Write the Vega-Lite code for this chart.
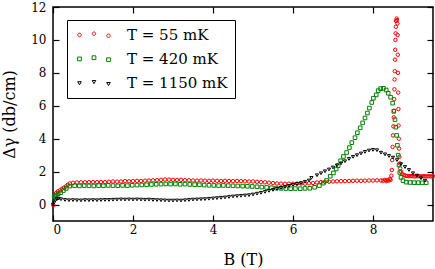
{
  "$schema": "https://vega.github.io/schema/vega-lite/v6.json",
  "autosize": {"type": "none"},
  "padding": {"left": 53, "top": 7, "right": 2, "bottom": 48},
  "width": 380,
  "height": 214,
  "background": "white",
  "config": {
    "view": {"stroke": "black", "strokeWidth": 1.5},
    "axis": {
      "grid": false,
      "domain": false,
      "labelFont": "DejaVu Serif",
      "titleFont": "DejaVu Serif",
      "labelFontSize": 12,
      "titleFontSize": 16,
      "titleFontWeight": "normal",
      "labelColor": "black",
      "titleColor": "black",
      "tickColor": "black",
      "tickWidth": 1.2,
      "tickSize": -6
    }
  },
  "data": {
    "values": [
      {"s": "T = 55 mK", "B": 0.01, "v": -0.05},
      {"s": "T = 55 mK", "B": 0.04, "v": 0.55},
      {"s": "T = 55 mK", "B": 0.08, "v": 0.7},
      {"s": "T = 55 mK", "B": 0.12, "v": 0.8},
      {"s": "T = 55 mK", "B": 0.17, "v": 0.86},
      {"s": "T = 55 mK", "B": 0.22, "v": 0.95},
      {"s": "T = 55 mK", "B": 0.27, "v": 1.02},
      {"s": "T = 55 mK", "B": 0.32, "v": 1.1},
      {"s": "T = 55 mK", "B": 0.37, "v": 1.2},
      {"s": "T = 55 mK", "B": 0.42, "v": 1.28},
      {"s": "T = 55 mK", "B": 0.5, "v": 1.32},
      {"s": "T = 55 mK", "B": 0.6, "v": 1.34},
      {"s": "T = 55 mK", "B": 0.7, "v": 1.35},
      {"s": "T = 55 mK", "B": 0.8, "v": 1.35},
      {"s": "T = 55 mK", "B": 0.9, "v": 1.36},
      {"s": "T = 55 mK", "B": 1.0, "v": 1.36},
      {"s": "T = 55 mK", "B": 1.1, "v": 1.36},
      {"s": "T = 55 mK", "B": 1.2, "v": 1.37},
      {"s": "T = 55 mK", "B": 1.3, "v": 1.36},
      {"s": "T = 55 mK", "B": 1.4, "v": 1.38},
      {"s": "T = 55 mK", "B": 1.5, "v": 1.4},
      {"s": "T = 55 mK", "B": 1.6, "v": 1.39},
      {"s": "T = 55 mK", "B": 1.7, "v": 1.4},
      {"s": "T = 55 mK", "B": 1.8, "v": 1.42},
      {"s": "T = 55 mK", "B": 1.9, "v": 1.41},
      {"s": "T = 55 mK", "B": 2.0, "v": 1.42},
      {"s": "T = 55 mK", "B": 2.1, "v": 1.44},
      {"s": "T = 55 mK", "B": 2.2, "v": 1.43},
      {"s": "T = 55 mK", "B": 2.3, "v": 1.45},
      {"s": "T = 55 mK", "B": 2.4, "v": 1.46},
      {"s": "T = 55 mK", "B": 2.5, "v": 1.47},
      {"s": "T = 55 mK", "B": 2.6, "v": 1.48},
      {"s": "T = 55 mK", "B": 2.7, "v": 1.5},
      {"s": "T = 55 mK", "B": 2.8, "v": 1.52},
      {"s": "T = 55 mK", "B": 2.9, "v": 1.51},
      {"s": "T = 55 mK", "B": 3.0, "v": 1.5},
      {"s": "T = 55 mK", "B": 3.1, "v": 1.49},
      {"s": "T = 55 mK", "B": 3.2, "v": 1.5},
      {"s": "T = 55 mK", "B": 3.3, "v": 1.48},
      {"s": "T = 55 mK", "B": 3.4, "v": 1.47},
      {"s": "T = 55 mK", "B": 3.5, "v": 1.46},
      {"s": "T = 55 mK", "B": 3.6, "v": 1.45},
      {"s": "T = 55 mK", "B": 3.7, "v": 1.46},
      {"s": "T = 55 mK", "B": 3.8, "v": 1.45},
      {"s": "T = 55 mK", "B": 3.9, "v": 1.44},
      {"s": "T = 55 mK", "B": 4.0, "v": 1.45},
      {"s": "T = 55 mK", "B": 4.1, "v": 1.44},
      {"s": "T = 55 mK", "B": 4.2, "v": 1.43},
      {"s": "T = 55 mK", "B": 4.3, "v": 1.44},
      {"s": "T = 55 mK", "B": 4.4, "v": 1.43},
      {"s": "T = 55 mK", "B": 4.5, "v": 1.42},
      {"s": "T = 55 mK", "B": 4.6, "v": 1.43},
      {"s": "T = 55 mK", "B": 4.7, "v": 1.42},
      {"s": "T = 55 mK", "B": 4.8, "v": 1.41},
      {"s": "T = 55 mK", "B": 4.9, "v": 1.4},
      {"s": "T = 55 mK", "B": 5.0, "v": 1.4},
      {"s": "T = 55 mK", "B": 5.1, "v": 1.38},
      {"s": "T = 55 mK", "B": 5.2, "v": 1.36},
      {"s": "T = 55 mK", "B": 5.3, "v": 1.35},
      {"s": "T = 55 mK", "B": 5.4, "v": 1.33},
      {"s": "T = 55 mK", "B": 5.5, "v": 1.3},
      {"s": "T = 55 mK", "B": 5.6, "v": 1.28},
      {"s": "T = 55 mK", "B": 5.7, "v": 1.27},
      {"s": "T = 55 mK", "B": 5.8, "v": 1.26},
      {"s": "T = 55 mK", "B": 5.9, "v": 1.27},
      {"s": "T = 55 mK", "B": 6.0, "v": 1.26},
      {"s": "T = 55 mK", "B": 6.1, "v": 1.27},
      {"s": "T = 55 mK", "B": 6.2, "v": 1.28},
      {"s": "T = 55 mK", "B": 6.3, "v": 1.27},
      {"s": "T = 55 mK", "B": 6.4, "v": 1.29},
      {"s": "T = 55 mK", "B": 6.5, "v": 1.31},
      {"s": "T = 55 mK", "B": 6.6, "v": 1.34},
      {"s": "T = 55 mK", "B": 6.7, "v": 1.36},
      {"s": "T = 55 mK", "B": 6.8, "v": 1.38},
      {"s": "T = 55 mK", "B": 6.9, "v": 1.39},
      {"s": "T = 55 mK", "B": 7.0, "v": 1.4},
      {"s": "T = 55 mK", "B": 7.1, "v": 1.41},
      {"s": "T = 55 mK", "B": 7.2, "v": 1.42},
      {"s": "T = 55 mK", "B": 7.3, "v": 1.42},
      {"s": "T = 55 mK", "B": 7.4, "v": 1.43},
      {"s": "T = 55 mK", "B": 7.5, "v": 1.44},
      {"s": "T = 55 mK", "B": 7.6, "v": 1.45},
      {"s": "T = 55 mK", "B": 7.7, "v": 1.44},
      {"s": "T = 55 mK", "B": 7.8, "v": 1.45},
      {"s": "T = 55 mK", "B": 7.9, "v": 1.46},
      {"s": "T = 55 mK", "B": 8.0, "v": 1.46},
      {"s": "T = 55 mK", "B": 8.1, "v": 1.47},
      {"s": "T = 55 mK", "B": 8.2, "v": 1.46},
      {"s": "T = 55 mK", "B": 8.25, "v": 1.45},
      {"s": "T = 55 mK", "B": 8.3, "v": 1.5},
      {"s": "T = 55 mK", "B": 8.33, "v": 1.42},
      {"s": "T = 55 mK", "B": 8.36, "v": 1.48},
      {"s": "T = 55 mK", "B": 8.39, "v": 1.45},
      {"s": "T = 55 mK", "B": 8.42, "v": 1.55},
      {"s": "T = 55 mK", "B": 8.44, "v": 1.5},
      {"s": "T = 55 mK", "B": 8.46, "v": 1.75},
      {"s": "T = 55 mK", "B": 8.47, "v": 2.1},
      {"s": "T = 55 mK", "B": 8.48, "v": 2.7},
      {"s": "T = 55 mK", "B": 8.49, "v": 3.5},
      {"s": "T = 55 mK", "B": 8.5, "v": 4.2},
      {"s": "T = 55 mK", "B": 8.51, "v": 4.75},
      {"s": "T = 55 mK", "B": 8.52, "v": 5.3},
      {"s": "T = 55 mK", "B": 8.525, "v": 5.7},
      {"s": "T = 55 mK", "B": 8.53, "v": 6.4},
      {"s": "T = 55 mK", "B": 8.535, "v": 7.0},
      {"s": "T = 55 mK", "B": 8.54, "v": 7.6},
      {"s": "T = 55 mK", "B": 8.545, "v": 8.1},
      {"s": "T = 55 mK", "B": 8.55, "v": 8.8},
      {"s": "T = 55 mK", "B": 8.555, "v": 9.4},
      {"s": "T = 55 mK", "B": 8.56, "v": 10.0},
      {"s": "T = 55 mK", "B": 8.565, "v": 10.4},
      {"s": "T = 55 mK", "B": 8.57, "v": 10.8},
      {"s": "T = 55 mK", "B": 8.575, "v": 11.15},
      {"s": "T = 55 mK", "B": 8.59, "v": 11.3},
      {"s": "T = 55 mK", "B": 8.6, "v": 11.2},
      {"s": "T = 55 mK", "B": 8.61, "v": 11.0},
      {"s": "T = 55 mK", "B": 8.615, "v": 10.3},
      {"s": "T = 55 mK", "B": 8.62, "v": 9.1},
      {"s": "T = 55 mK", "B": 8.625, "v": 8.0},
      {"s": "T = 55 mK", "B": 8.63, "v": 6.8},
      {"s": "T = 55 mK", "B": 8.635, "v": 5.8},
      {"s": "T = 55 mK", "B": 8.64, "v": 4.8},
      {"s": "T = 55 mK", "B": 8.645, "v": 4.0},
      {"s": "T = 55 mK", "B": 8.65, "v": 3.4},
      {"s": "T = 55 mK", "B": 8.66, "v": 2.9},
      {"s": "T = 55 mK", "B": 8.67, "v": 2.5},
      {"s": "T = 55 mK", "B": 8.68, "v": 2.2},
      {"s": "T = 55 mK", "B": 8.7, "v": 2.0},
      {"s": "T = 55 mK", "B": 8.73, "v": 1.85},
      {"s": "T = 55 mK", "B": 8.77, "v": 1.8},
      {"s": "T = 55 mK", "B": 8.81, "v": 1.75},
      {"s": "T = 55 mK", "B": 8.85, "v": 1.74},
      {"s": "T = 55 mK", "B": 8.9, "v": 1.72},
      {"s": "T = 55 mK", "B": 8.95, "v": 1.73},
      {"s": "T = 55 mK", "B": 9.0, "v": 1.72},
      {"s": "T = 55 mK", "B": 9.05, "v": 1.71},
      {"s": "T = 55 mK", "B": 9.1, "v": 1.72},
      {"s": "T = 55 mK", "B": 9.15, "v": 1.72},
      {"s": "T = 55 mK", "B": 9.2, "v": 1.71},
      {"s": "T = 55 mK", "B": 9.25, "v": 1.72},
      {"s": "T = 55 mK", "B": 9.3, "v": 1.72},
      {"s": "T = 55 mK", "B": 9.35, "v": 1.71},
      {"s": "T = 55 mK", "B": 9.4, "v": 1.72},
      {"s": "T = 55 mK", "B": 9.45, "v": 1.71},
      {"s": "T = 55 mK", "B": 9.5, "v": 1.72},

      {"s": "T = 420 mK", "B": 0.03, "v": 0.5},
      {"s": "T = 420 mK", "B": 0.08, "v": 0.58},
      {"s": "T = 420 mK", "B": 0.13, "v": 0.66},
      {"s": "T = 420 mK", "B": 0.19, "v": 0.72},
      {"s": "T = 420 mK", "B": 0.26, "v": 0.85},
      {"s": "T = 420 mK", "B": 0.33, "v": 0.98},
      {"s": "T = 420 mK", "B": 0.42, "v": 1.12},
      {"s": "T = 420 mK", "B": 0.54, "v": 1.14},
      {"s": "T = 420 mK", "B": 0.66, "v": 1.13},
      {"s": "T = 420 mK", "B": 0.78, "v": 1.15},
      {"s": "T = 420 mK", "B": 0.9, "v": 1.14},
      {"s": "T = 420 mK", "B": 1.02, "v": 1.13},
      {"s": "T = 420 mK", "B": 1.14, "v": 1.15},
      {"s": "T = 420 mK", "B": 1.26, "v": 1.14},
      {"s": "T = 420 mK", "B": 1.38, "v": 1.16},
      {"s": "T = 420 mK", "B": 1.5, "v": 1.15},
      {"s": "T = 420 mK", "B": 1.62, "v": 1.14},
      {"s": "T = 420 mK", "B": 1.74, "v": 1.16},
      {"s": "T = 420 mK", "B": 1.86, "v": 1.15},
      {"s": "T = 420 mK", "B": 1.98, "v": 1.17},
      {"s": "T = 420 mK", "B": 2.1, "v": 1.18},
      {"s": "T = 420 mK", "B": 2.22, "v": 1.19},
      {"s": "T = 420 mK", "B": 2.34, "v": 1.2},
      {"s": "T = 420 mK", "B": 2.46, "v": 1.22},
      {"s": "T = 420 mK", "B": 2.58, "v": 1.23},
      {"s": "T = 420 mK", "B": 2.7, "v": 1.24},
      {"s": "T = 420 mK", "B": 2.82, "v": 1.25},
      {"s": "T = 420 mK", "B": 2.94, "v": 1.24},
      {"s": "T = 420 mK", "B": 3.06, "v": 1.25},
      {"s": "T = 420 mK", "B": 3.18, "v": 1.23},
      {"s": "T = 420 mK", "B": 3.3, "v": 1.24},
      {"s": "T = 420 mK", "B": 3.42, "v": 1.22},
      {"s": "T = 420 mK", "B": 3.54, "v": 1.21},
      {"s": "T = 420 mK", "B": 3.66, "v": 1.2},
      {"s": "T = 420 mK", "B": 3.78, "v": 1.18},
      {"s": "T = 420 mK", "B": 3.9, "v": 1.17},
      {"s": "T = 420 mK", "B": 4.02, "v": 1.16},
      {"s": "T = 420 mK", "B": 4.14, "v": 1.15},
      {"s": "T = 420 mK", "B": 4.26, "v": 1.16},
      {"s": "T = 420 mK", "B": 4.38, "v": 1.15},
      {"s": "T = 420 mK", "B": 4.5, "v": 1.14},
      {"s": "T = 420 mK", "B": 4.62, "v": 1.13},
      {"s": "T = 420 mK", "B": 4.74, "v": 1.12},
      {"s": "T = 420 mK", "B": 4.86, "v": 1.11},
      {"s": "T = 420 mK", "B": 4.98, "v": 1.1},
      {"s": "T = 420 mK", "B": 5.1, "v": 1.08},
      {"s": "T = 420 mK", "B": 5.22, "v": 1.06},
      {"s": "T = 420 mK", "B": 5.34, "v": 1.04},
      {"s": "T = 420 mK", "B": 5.46, "v": 1.02},
      {"s": "T = 420 mK", "B": 5.58, "v": 1.0},
      {"s": "T = 420 mK", "B": 5.7, "v": 0.98},
      {"s": "T = 420 mK", "B": 5.82, "v": 0.97},
      {"s": "T = 420 mK", "B": 5.94, "v": 0.96},
      {"s": "T = 420 mK", "B": 6.06, "v": 0.97},
      {"s": "T = 420 mK", "B": 6.18, "v": 0.96},
      {"s": "T = 420 mK", "B": 6.3, "v": 0.98},
      {"s": "T = 420 mK", "B": 6.42, "v": 0.99},
      {"s": "T = 420 mK", "B": 6.54, "v": 1.05},
      {"s": "T = 420 mK", "B": 6.66, "v": 1.15},
      {"s": "T = 420 mK", "B": 6.76, "v": 1.3},
      {"s": "T = 420 mK", "B": 6.84, "v": 1.46},
      {"s": "T = 420 mK", "B": 6.93, "v": 1.72},
      {"s": "T = 420 mK", "B": 7.01, "v": 1.92},
      {"s": "T = 420 mK", "B": 7.08, "v": 2.16},
      {"s": "T = 420 mK", "B": 7.13, "v": 2.36},
      {"s": "T = 420 mK", "B": 7.19, "v": 2.66},
      {"s": "T = 420 mK", "B": 7.26, "v": 2.92},
      {"s": "T = 420 mK", "B": 7.34, "v": 3.16},
      {"s": "T = 420 mK", "B": 7.41, "v": 3.46},
      {"s": "T = 420 mK", "B": 7.47, "v": 3.76},
      {"s": "T = 420 mK", "B": 7.55, "v": 4.06},
      {"s": "T = 420 mK", "B": 7.61, "v": 4.36},
      {"s": "T = 420 mK", "B": 7.68, "v": 4.66},
      {"s": "T = 420 mK", "B": 7.74, "v": 4.96},
      {"s": "T = 420 mK", "B": 7.8, "v": 5.26},
      {"s": "T = 420 mK", "B": 7.86, "v": 5.56},
      {"s": "T = 420 mK", "B": 7.91, "v": 5.86},
      {"s": "T = 420 mK", "B": 7.97, "v": 6.2},
      {"s": "T = 420 mK", "B": 8.01, "v": 6.46},
      {"s": "T = 420 mK", "B": 8.08, "v": 6.66},
      {"s": "T = 420 mK", "B": 8.13, "v": 6.92},
      {"s": "T = 420 mK", "B": 8.19, "v": 7.04},
      {"s": "T = 420 mK", "B": 8.26, "v": 7.06},
      {"s": "T = 420 mK", "B": 8.33, "v": 6.96},
      {"s": "T = 420 mK", "B": 8.38, "v": 6.76},
      {"s": "T = 420 mK", "B": 8.44, "v": 6.52},
      {"s": "T = 420 mK", "B": 8.49, "v": 6.16},
      {"s": "T = 420 mK", "B": 8.52, "v": 5.66},
      {"s": "T = 420 mK", "B": 8.55, "v": 5.16},
      {"s": "T = 420 mK", "B": 8.57, "v": 4.7},
      {"s": "T = 420 mK", "B": 8.59, "v": 4.2},
      {"s": "T = 420 mK", "B": 8.61, "v": 3.6},
      {"s": "T = 420 mK", "B": 8.63, "v": 3.0},
      {"s": "T = 420 mK", "B": 8.65, "v": 2.4},
      {"s": "T = 420 mK", "B": 8.67, "v": 1.95},
      {"s": "T = 420 mK", "B": 8.7, "v": 1.65},
      {"s": "T = 420 mK", "B": 8.75, "v": 1.45},
      {"s": "T = 420 mK", "B": 8.83, "v": 1.36},
      {"s": "T = 420 mK", "B": 8.93, "v": 1.34},
      {"s": "T = 420 mK", "B": 9.03, "v": 1.33},
      {"s": "T = 420 mK", "B": 9.13, "v": 1.33},
      {"s": "T = 420 mK", "B": 9.23, "v": 1.32},
      {"s": "T = 420 mK", "B": 9.33, "v": 1.32},

      {"s": "T = 1150 mK", "B": 0.0, "v": 0.0},
      {"s": "T = 1150 mK", "B": 0.03, "v": 0.12},
      {"s": "T = 1150 mK", "B": 0.06, "v": 0.25},
      {"s": "T = 1150 mK", "B": 0.1, "v": 0.33},
      {"s": "T = 1150 mK", "B": 0.14, "v": 0.36},
      {"s": "T = 1150 mK", "B": 0.2, "v": 0.32},
      {"s": "T = 1150 mK", "B": 0.3, "v": 0.28},
      {"s": "T = 1150 mK", "B": 0.4, "v": 0.26},
      {"s": "T = 1150 mK", "B": 0.5, "v": 0.27},
      {"s": "T = 1150 mK", "B": 0.6, "v": 0.26},
      {"s": "T = 1150 mK", "B": 0.7, "v": 0.25},
      {"s": "T = 1150 mK", "B": 0.8, "v": 0.27},
      {"s": "T = 1150 mK", "B": 0.9, "v": 0.26},
      {"s": "T = 1150 mK", "B": 1.0, "v": 0.27},
      {"s": "T = 1150 mK", "B": 1.1, "v": 0.26},
      {"s": "T = 1150 mK", "B": 1.2, "v": 0.27},
      {"s": "T = 1150 mK", "B": 1.3, "v": 0.28},
      {"s": "T = 1150 mK", "B": 1.4, "v": 0.28},
      {"s": "T = 1150 mK", "B": 1.5, "v": 0.29},
      {"s": "T = 1150 mK", "B": 1.6, "v": 0.3},
      {"s": "T = 1150 mK", "B": 1.7, "v": 0.31},
      {"s": "T = 1150 mK", "B": 1.8, "v": 0.3},
      {"s": "T = 1150 mK", "B": 1.9, "v": 0.31},
      {"s": "T = 1150 mK", "B": 2.0, "v": 0.3},
      {"s": "T = 1150 mK", "B": 2.1, "v": 0.31},
      {"s": "T = 1150 mK", "B": 2.2, "v": 0.3},
      {"s": "T = 1150 mK", "B": 2.3, "v": 0.29},
      {"s": "T = 1150 mK", "B": 2.4, "v": 0.3},
      {"s": "T = 1150 mK", "B": 2.5, "v": 0.28},
      {"s": "T = 1150 mK", "B": 2.6, "v": 0.27},
      {"s": "T = 1150 mK", "B": 2.7, "v": 0.26},
      {"s": "T = 1150 mK", "B": 2.8, "v": 0.25},
      {"s": "T = 1150 mK", "B": 2.9, "v": 0.24},
      {"s": "T = 1150 mK", "B": 3.0, "v": 0.24},
      {"s": "T = 1150 mK", "B": 3.1, "v": 0.25},
      {"s": "T = 1150 mK", "B": 3.2, "v": 0.24},
      {"s": "T = 1150 mK", "B": 3.3, "v": 0.26},
      {"s": "T = 1150 mK", "B": 3.4, "v": 0.28},
      {"s": "T = 1150 mK", "B": 3.5, "v": 0.3},
      {"s": "T = 1150 mK", "B": 3.6, "v": 0.31},
      {"s": "T = 1150 mK", "B": 3.7, "v": 0.32},
      {"s": "T = 1150 mK", "B": 3.8, "v": 0.33},
      {"s": "T = 1150 mK", "B": 3.9, "v": 0.35},
      {"s": "T = 1150 mK", "B": 4.0, "v": 0.37},
      {"s": "T = 1150 mK", "B": 4.1, "v": 0.39},
      {"s": "T = 1150 mK", "B": 4.2, "v": 0.41},
      {"s": "T = 1150 mK", "B": 4.3, "v": 0.43},
      {"s": "T = 1150 mK", "B": 4.4, "v": 0.46},
      {"s": "T = 1150 mK", "B": 4.5, "v": 0.49},
      {"s": "T = 1150 mK", "B": 4.6, "v": 0.51},
      {"s": "T = 1150 mK", "B": 4.7, "v": 0.53},
      {"s": "T = 1150 mK", "B": 4.8, "v": 0.55},
      {"s": "T = 1150 mK", "B": 4.9, "v": 0.57},
      {"s": "T = 1150 mK", "B": 5.0, "v": 0.61},
      {"s": "T = 1150 mK", "B": 5.1, "v": 0.66},
      {"s": "T = 1150 mK", "B": 5.2, "v": 0.71},
      {"s": "T = 1150 mK", "B": 5.3, "v": 0.77},
      {"s": "T = 1150 mK", "B": 5.4, "v": 0.83},
      {"s": "T = 1150 mK", "B": 5.5, "v": 0.89},
      {"s": "T = 1150 mK", "B": 5.6, "v": 0.95},
      {"s": "T = 1150 mK", "B": 5.7, "v": 1.01},
      {"s": "T = 1150 mK", "B": 5.8, "v": 1.07},
      {"s": "T = 1150 mK", "B": 5.9, "v": 1.13},
      {"s": "T = 1150 mK", "B": 6.0, "v": 1.19},
      {"s": "T = 1150 mK", "B": 6.1, "v": 1.25},
      {"s": "T = 1150 mK", "B": 6.2, "v": 1.3},
      {"s": "T = 1150 mK", "B": 6.3, "v": 1.38},
      {"s": "T = 1150 mK", "B": 6.4, "v": 1.46},
      {"s": "T = 1150 mK", "B": 6.46, "v": 1.62},
      {"s": "T = 1150 mK", "B": 6.6, "v": 1.78},
      {"s": "T = 1150 mK", "B": 6.7, "v": 1.9},
      {"s": "T = 1150 mK", "B": 6.8, "v": 2.02},
      {"s": "T = 1150 mK", "B": 6.9, "v": 2.13},
      {"s": "T = 1150 mK", "B": 7.0, "v": 2.25},
      {"s": "T = 1150 mK", "B": 7.1, "v": 2.38},
      {"s": "T = 1150 mK", "B": 7.2, "v": 2.5},
      {"s": "T = 1150 mK", "B": 7.3, "v": 2.63},
      {"s": "T = 1150 mK", "B": 7.4, "v": 2.77},
      {"s": "T = 1150 mK", "B": 7.5, "v": 2.9},
      {"s": "T = 1150 mK", "B": 7.6, "v": 3.0},
      {"s": "T = 1150 mK", "B": 7.7, "v": 3.1},
      {"s": "T = 1150 mK", "B": 7.8, "v": 3.2},
      {"s": "T = 1150 mK", "B": 7.9, "v": 3.28},
      {"s": "T = 1150 mK", "B": 8.0, "v": 3.32},
      {"s": "T = 1150 mK", "B": 8.1, "v": 3.3},
      {"s": "T = 1150 mK", "B": 8.2, "v": 3.15},
      {"s": "T = 1150 mK", "B": 8.3, "v": 3.05},
      {"s": "T = 1150 mK", "B": 8.4, "v": 2.95},
      {"s": "T = 1150 mK", "B": 8.5, "v": 2.85},
      {"s": "T = 1150 mK", "B": 8.6, "v": 2.7},
      {"s": "T = 1150 mK", "B": 8.7, "v": 2.45},
      {"s": "T = 1150 mK", "B": 8.8, "v": 2.28},
      {"s": "T = 1150 mK", "B": 8.9, "v": 2.1},
      {"s": "T = 1150 mK", "B": 9.0, "v": 1.9},
      {"s": "T = 1150 mK", "B": 9.1, "v": 1.76},
      {"s": "T = 1150 mK", "B": 9.2, "v": 1.6},
      {"s": "T = 1150 mK", "B": 9.3, "v": 1.45}
    ]
  },
  "resolve": {"axis": {"x": "independent", "y": "independent"}},
  "layer": [
    {
      "transform": [{"filter": "datum.s == 'T = 55 mK'"}],
      "mark": {"type": "point", "shape": "circle", "filled": false, "strokeWidth": 1, "opacity": 1, "size": 12},
      "encoding": {
        "x": {
          "field": "B", "type": "quantitative",
          "scale": {"domain": [0, 9.5], "nice": false, "zero": false},
          "axis": {"orient": "bottom", "title": "B (T)", "values": [0, 2, 4, 6, 8], "labelPadding": 9, "titlePadding": 16}
        },
        "y": {
          "field": "v", "type": "quantitative",
          "scale": {"domain": [-1, 12], "nice": false, "zero": false},
          "axis": {"orient": "left", "title": "Δγ (db/cm)", "values": [0, 2, 4, 6, 8, 10, 12], "labelPadding": 13, "titlePadding": 13}
        },
        "color": {
          "field": "s", "type": "nominal",
          "scale": {"domain": ["T = 55 mK", "T = 420 mK", "T = 1150 mK"], "range": ["#ff0000", "#008000", "#000000"]},
          "legend": {
            "title": null,
            "orient": "none",
            "legendX": 14,
            "legendY": 13,
            "padding": 7,
            "rowPadding": 8,
            "symbolOffset": 0,
            "labelOffset": 38,
            "labelFont": "DejaVu Serif",
            "labelFontSize": 15,
            "labelColor": "black",
            "labelBaseline": "middle",
            "strokeColor": "black",
            "fillColor": "white",
            "symbolSize": 64,
            "symbolStrokeWidth": 1,
            "symbolFillColor": "transparent",
            "symbolType": {"expr": "datum.value == 'T = 55 mK' ? 'M-0.94,0.1a0.44,0.44 0 1,0 0.88,0a0.44,0.44 0 1,0 -0.88,0M2.68,-0.2a0.44,0.44 0 1,0 0.88,0a0.44,0.44 0 1,0 -0.88,0M6.31,0.3a0.44,0.44 0 1,0 0.88,0a0.44,0.44 0 1,0 -0.88,0' : (datum.value == 'T = 420 mK' ? 'M-0.97,-0.37h0.94v0.94h-0.94zM2.65,-0.67h0.94v0.94h-0.94zM6.28,-0.17h0.94v0.94h-0.94z' : 'M-0.95,-0.2h0.9l-0.45,0.78zM2.67,-0.5h0.9l-0.45,0.78zM6.3,0.0h0.9l-0.45,0.78z')"},
            "encode": {
              "legend": {"strokeWidth": {"value": 1.5}}
            }
          }
        }
      }
    },
    {
      "transform": [{"filter": "datum.s == 'T = 420 mK'"}],
      "mark": {"type": "point", "shape": "square", "filled": false, "strokeWidth": 1, "opacity": 1, "size": 13},
      "encoding": {
        "x": {"field": "B", "type": "quantitative", "axis": null},
        "y": {"field": "v", "type": "quantitative", "axis": null},
        "color": {"field": "s", "type": "nominal"}
      }
    },
    {
      "transform": [{"filter": "datum.s == 'T = 1150 mK'"}],
      "mark": {"type": "point", "shape": "triangle-down", "filled": false, "strokeWidth": 1, "opacity": 1, "size": 10},
      "encoding": {
        "x": {"field": "B", "type": "quantitative", "axis": null},
        "y": {"field": "v", "type": "quantitative", "axis": null},
        "color": {"field": "s", "type": "nominal"}
      }
    },
    {
      "mark": {"type": "point", "opacity": 0},
      "encoding": {
        "x": {
          "field": "B", "type": "quantitative",
          "axis": {"orient": "top", "title": null, "labels": false, "values": [0, 2, 4, 6, 8]}
        },
        "y": {
          "field": "v", "type": "quantitative",
          "axis": {"orient": "right", "title": null, "labels": false, "values": [0, 2, 4, 6, 8, 10, 12]}
        }
      }
    }
  ]
}
